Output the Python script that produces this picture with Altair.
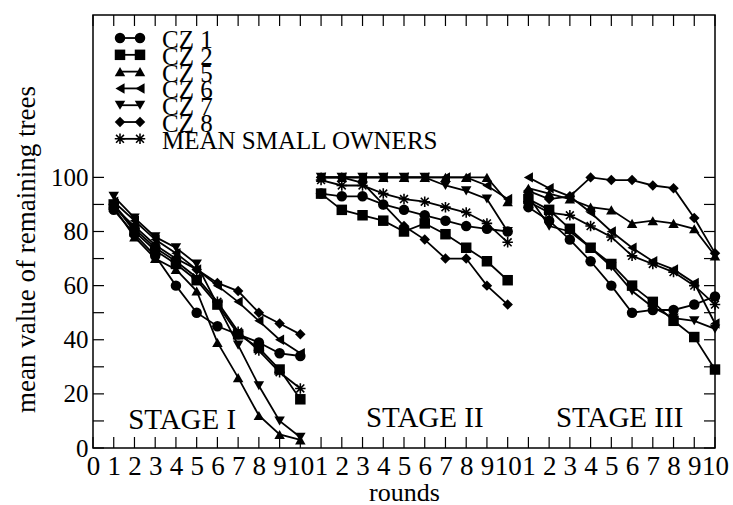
import altair as alt
import pandas as pd

# Series names, as shown in the legend
series_names = ["CZ 1", "CZ 2", "CZ 5", "CZ 6", "CZ 7", "CZ 8", "MEAN SMALL OWNERS"]

# Mean value of remaining trees, rounds 1-10 of stage I, II and III
cz1 = [[88, 79, 71, 60, 50, 45, 42, 39, 35, 34],
       [94, 93, 93, 90, 88, 86, 84, 82, 81, 80],
       [89, 84, 77, 69, 60, 50, 51, 51, 53, 56]]
cz2 = [[90, 80, 73, 68, 62, 53, 42, 37, 29, 18],
       [94, 88, 86, 84, 80, 83, 79, 74, 69, 62],
       [92, 88, 81, 74, 68, 60, 54, 47, 41, 29]]
cz5 = [[89, 78, 70, 66, 58, 39, 26, 12, 5, 3],
       [100, 100, 100, 100, 100, 100, 100, 100, 100, 91],
       [96, 94, 92, 89, 88, 83, 84, 83, 81, 71]]
cz6 = [[91, 84, 77, 72, 66, 60, 54, 47, 40, 35],
       [100, 100, 100, 100, 100, 100, 100, 100, 97, 92],
       [100, 96, 93, 87, 80, 74, 69, 66, 61, 46]]
cz7 = [[93, 85, 78, 74, 68, 53, 38, 23, 10, 4],
       [100, 100, 100, 100, 100, 100, 97, 95, 92, 80],
       [93, 82, 80, 74, 67, 58, 52, 48, 47, 44]]
cz8 = [[89, 82, 75, 70, 66, 61, 58, 50, 46, 42],
       [100, 100, 98, 90, 82, 77, 70, 70, 60, 53],
       [95, 92, 93, 100, 99, 99, 97, 96, 85, 72]]
mean_small = [[90, 81, 74, 69, 63, 54, 43, 36, 28, 22],
              [99, 97, 97, 94, 92, 91, 89, 87, 83, 76],
              [91, 87, 86, 82, 78, 71, 68, 65, 60, 53]]

rounds = list(range(1, 11))
stage_names = ["STAGE I", "STAGE II", "STAGE III"]
stage_label_x = [4.3, 16.0, 25.4]
stage_label_y = [10.5, 11.0, 11.0]

# Tick labels along the rounds axis: 0..10, then 1..10 twice
x_tick_values = list(range(0, 31))
x_tick_labels = [str(v) for v in range(0, 11)] + [str(v) for v in range(1, 11)] * 2
y_label_values = [0, 20, 40, 60, 80, 100]
y_tick_values = list(range(0, 101, 10))

# Asterisk drawn as a filled path of four thin bars
asterisk = ("M -0.15 -1 L 0.15 -1 L 0.15 1 L -0.15 1 Z "
            "M -1 -0.15 L 1 -0.15 L 1 0.15 L -1 0.15 Z "
            "M -0.644 -0.856 L 0.856 0.644 L 0.644 0.856 L -0.856 -0.644 Z "
            "M 0.856 -0.644 L -0.644 0.856 L -0.856 0.644 L 0.644 -0.856 Z")
shapes = ["circle", "square", "triangle-up", "triangle-left", "triangle-down", "diamond", asterisk]

all_series = [cz1, cz2, cz5, cz6, cz7, cz8, mean_small]
rows = []
for name, stages in zip(series_names, all_series):
    for s, vals in enumerate(stages):
        for r, v in zip(rounds, vals):
            rows.append({"series": name, "seg": f"{name}-{s}", "pos": 10 * s + r, "value": v})
df = pd.DataFrame(rows)

W, H = 622, 433
FONT = "Liberation Serif"
TICK = 11
MSIZE = 110

x_scale = alt.Scale(domain=[0, 30], nice=False, zero=False)
y_scale = alt.Scale(domain=[0, 160], nice=False)
shape_scale = alt.Scale(domain=series_names, range=shapes)

label_expr = "[" + ",".join(f"'{t}'" for t in x_tick_labels) + "][datum.value]"

base = alt.Chart(df)

lines = base.mark_line(color="black", strokeWidth=1.8).encode(
    x=alt.X("pos:Q", scale=x_scale,
            axis=alt.Axis(values=x_tick_values, labelExpr=label_expr, ticks=False, domain=False,
                          grid=False, labelFont=FONT, labelFontSize=27, labelColor="black",
                          labelPadding=5, labelFlush=False, labelOverlap=False,
                          title="rounds", titleFont=FONT, titleFontSize=26,
                          titleFontWeight="normal", titleColor="black",
                          titleX=W / 2, titleY=52, titleBaseline="alphabetic",
                          titleAlign="center")),
    y=alt.Y("value:Q", scale=y_scale,
            axis=alt.Axis(values=y_label_values, ticks=False, domain=False, grid=False,
                          labelFont=FONT, labelFontSize=25, labelColor="black", labelPadding=5,
                          labelFlush=False,
                          title="mean value of remaining trees", titleFont=FONT, titleFontSize=27,
                          titleFontWeight="normal", titleColor="black",
                          titleX=-53, titleY=234, titleAngle=270, titleAlign="center",
                          titleBaseline="bottom")),
    detail="seg:N",
)

points = base.mark_point(filled=True, color="black", opacity=1, size=MSIZE).encode(
    x=alt.X("pos:Q", scale=x_scale, axis=None),
    y=alt.Y("value:Q", scale=y_scale, axis=None),
    shape=alt.Shape("series:N", scale=shape_scale, legend=None),
)

# Inward ticks on all four sides
xt = pd.DataFrame({"t": x_tick_values})
yt = pd.DataFrame({"t": y_tick_values})
bottom_ticks = alt.Chart(xt).mark_rule(color="black", strokeWidth=1.2).encode(
    x=alt.X("t:Q", scale=x_scale, axis=None), y=alt.value(H), y2=alt.value(H - TICK))
top_ticks = alt.Chart(xt).mark_rule(color="black", strokeWidth=1.2).encode(
    x=alt.X("t:Q", scale=x_scale, axis=None), y=alt.value(0), y2=alt.value(TICK))
left_ticks = alt.Chart(yt).mark_rule(color="black", strokeWidth=1.2).encode(
    y=alt.Y("t:Q", scale=y_scale, axis=None), x=alt.value(0), x2=alt.value(TICK))
right_ticks = alt.Chart(yt).mark_rule(color="black", strokeWidth=1.2).encode(
    y=alt.Y("t:Q", scale=y_scale, axis=None), x=alt.value(W), x2=alt.value(W - TICK))

stages_df = pd.DataFrame({"label": stage_names, "x": stage_label_x, "y": stage_label_y})
stage_text = alt.Chart(stages_df).mark_text(font=FONT, fontSize=29, color="black",
                                            baseline="middle", align="center").encode(
    x=alt.X("x:Q", scale=x_scale, axis=None),
    y=alt.Y("y:Q", scale=y_scale, axis=None),
    text="label:N",
)

# Legend: marker - line - marker, then the series name
leg = pd.DataFrame({"series": series_names, "row": list(range(len(series_names)))})
leg_y = alt.Scale(domain=[-1.37, 24.4], reverse=True)
leg_line = alt.Chart(leg).mark_rule(color="black", strokeWidth=1.8).encode(
    y=alt.Y("row:Q", scale=leg_y, axis=None), x=alt.value(27), x2=alt.value(47))
leg_pt1 = alt.Chart(leg).mark_point(filled=True, color="black", opacity=1, size=MSIZE).encode(
    y=alt.Y("row:Q", scale=leg_y, axis=None), x=alt.value(27),
    shape=alt.Shape("series:N", scale=shape_scale, legend=None))
leg_pt2 = alt.Chart(leg).mark_point(filled=True, color="black", opacity=1, size=MSIZE).encode(
    y=alt.Y("row:Q", scale=leg_y, axis=None), x=alt.value(47),
    shape=alt.Shape("series:N", scale=shape_scale, legend=None))
leg_text = alt.Chart(leg).mark_text(font=FONT, fontSize=25, color="black", align="left",
                                    baseline="middle", dy=2).encode(
    y=alt.Y("row:Q", scale=leg_y, axis=None), x=alt.value(69), text="series:N")

chart = alt.layer(
    lines, points, bottom_ticks, top_ticks, left_ticks, right_ticks, stage_text,
    leg_line, leg_pt1, leg_pt2, leg_text,
).resolve_scale(x="independent", y="independent").properties(
    width=W, height=H,
    autosize=alt.AutoSizeParams(type="none"),
    padding={"left": 93, "top": 15, "right": 18, "bottom": 57},
    background="white",
).configure_view(stroke="black", strokeWidth=1.5)

chart.save("out.html", embed_options={"renderer": "svg", "actions": False})
